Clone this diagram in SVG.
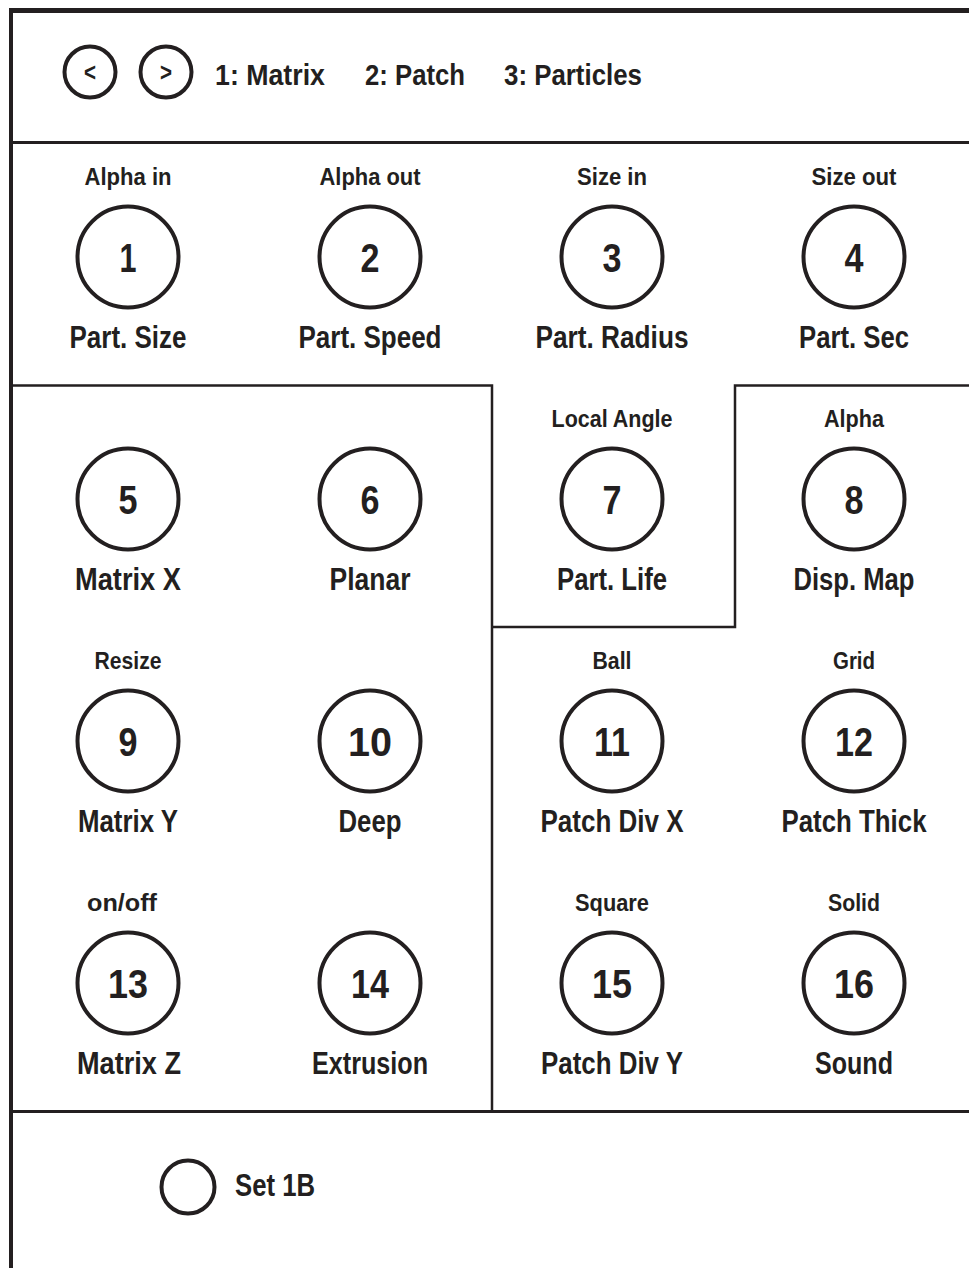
<svg xmlns="http://www.w3.org/2000/svg" width="969" height="1268" viewBox="0 0 969 1268">
<style>
text{font-family:"Liberation Sans",Arial,sans-serif;font-weight:bold;fill:#231f20;text-anchor:middle}
.top{font-size:24px}
.num{font-size:40px}
.bot{font-size:31px}
.hdr{font-size:29px;text-anchor:start}
.knob{fill:none;stroke:#231f20;stroke-width:4}
.ln{stroke:#231f20;fill:none}
</style>
<rect width="969" height="1268" fill="#fff"/>
<g id="frame">
<line class="ln" x1="9" y1="10.5" x2="969" y2="10.5" stroke-width="5"/>
<line class="ln" x1="11" y1="8" x2="11" y2="1268" stroke-width="4"/>
<line class="ln" x1="11" y1="142.5" x2="969" y2="142.5" stroke-width="3"/>
<polyline class="ln" points="11,385.5 492,385.5 492,1111.5" stroke-width="2.5"/>
<polyline class="ln" points="492,627 735,627 735,385.5 969,385.5" stroke-width="2.5"/>
<line class="ln" x1="11" y1="1111.5" x2="969" y2="1111.5" stroke-width="3"/>
</g>
<g id="header">
<g id="prev"><circle class="knob" cx="90" cy="72" r="25.5"/><text x="90" y="81" style="font-size:25px" textLength="12" lengthAdjust="spacingAndGlyphs">&lt;</text></g>
<g id="next"><circle class="knob" cx="166" cy="72" r="25.5"/><text x="166" y="81" style="font-size:25px" textLength="12" lengthAdjust="spacingAndGlyphs">&gt;</text></g>
<text class="hdr" x="215" y="85" textLength="110" lengthAdjust="spacingAndGlyphs">1: Matrix</text>
<text class="hdr" x="365" y="85" textLength="100" lengthAdjust="spacingAndGlyphs">2: Patch</text>
<text class="hdr" x="504" y="85" textLength="138" lengthAdjust="spacingAndGlyphs">3: Particles</text>
</g>
<g id="knob1"><text class="top" x="128" y="185" textLength="87" lengthAdjust="spacingAndGlyphs">Alpha in</text><circle class="knob" cx="128" cy="257" r="50.5"/><text class="num" x="128" y="272" textLength="17" lengthAdjust="spacingAndGlyphs">1</text><text class="bot" x="128" y="348" textLength="117" lengthAdjust="spacingAndGlyphs">Part. Size</text></g>
<g id="knob2"><text class="top" x="370" y="185" textLength="101" lengthAdjust="spacingAndGlyphs">Alpha out</text><circle class="knob" cx="370" cy="257" r="50.5"/><text class="num" x="370" y="272" textLength="19" lengthAdjust="spacingAndGlyphs">2</text><text class="bot" x="370" y="348" textLength="143" lengthAdjust="spacingAndGlyphs">Part. Speed</text></g>
<g id="knob3"><text class="top" x="612" y="185" textLength="70" lengthAdjust="spacingAndGlyphs">Size in</text><circle class="knob" cx="612" cy="257" r="50.5"/><text class="num" x="612" y="272" textLength="19" lengthAdjust="spacingAndGlyphs">3</text><text class="bot" x="612" y="348" textLength="153" lengthAdjust="spacingAndGlyphs">Part. Radius</text></g>
<g id="knob4"><text class="top" x="854" y="185" textLength="85" lengthAdjust="spacingAndGlyphs">Size out</text><circle class="knob" cx="854" cy="257" r="50.5"/><text class="num" x="854" y="272" textLength="19" lengthAdjust="spacingAndGlyphs">4</text><text class="bot" x="854" y="348" textLength="110" lengthAdjust="spacingAndGlyphs">Part. Sec</text></g>
<g id="knob5"><circle class="knob" cx="128" cy="499" r="50.5"/><text class="num" x="128" y="514" textLength="19" lengthAdjust="spacingAndGlyphs">5</text><text class="bot" x="128" y="590" textLength="106" lengthAdjust="spacingAndGlyphs">Matrix X</text></g>
<g id="knob6"><circle class="knob" cx="370" cy="499" r="50.5"/><text class="num" x="370" y="514" textLength="19" lengthAdjust="spacingAndGlyphs">6</text><text class="bot" x="370" y="590" textLength="81" lengthAdjust="spacingAndGlyphs">Planar</text></g>
<g id="knob7"><text class="top" x="612" y="427" textLength="121" lengthAdjust="spacingAndGlyphs">Local Angle</text><circle class="knob" cx="612" cy="499" r="50.5"/><text class="num" x="612" y="514" textLength="19" lengthAdjust="spacingAndGlyphs">7</text><text class="bot" x="612" y="590" textLength="110" lengthAdjust="spacingAndGlyphs">Part. Life</text></g>
<g id="knob8"><text class="top" x="854" y="427" textLength="60" lengthAdjust="spacingAndGlyphs">Alpha</text><circle class="knob" cx="854" cy="499" r="50.5"/><text class="num" x="854" y="514" textLength="19" lengthAdjust="spacingAndGlyphs">8</text><text class="bot" x="854" y="590" textLength="121" lengthAdjust="spacingAndGlyphs">Disp. Map</text></g>
<g id="knob9"><text class="top" x="128" y="669" textLength="67" lengthAdjust="spacingAndGlyphs">Resize</text><circle class="knob" cx="128" cy="741" r="50.5"/><text class="num" x="128" y="756" textLength="19" lengthAdjust="spacingAndGlyphs">9</text><text class="bot" x="128" y="832" textLength="100" lengthAdjust="spacingAndGlyphs">Matrix Y</text></g>
<g id="knob10"><circle class="knob" cx="370" cy="741" r="50.5"/><text class="num" x="370" y="756" textLength="44" lengthAdjust="spacingAndGlyphs">10</text><text class="bot" x="370" y="832" textLength="63" lengthAdjust="spacingAndGlyphs">Deep</text></g>
<g id="knob11"><text class="top" x="612" y="669" textLength="39" lengthAdjust="spacingAndGlyphs">Ball</text><circle class="knob" cx="612" cy="741" r="50.5"/><text class="num" x="612" y="756" textLength="36" lengthAdjust="spacingAndGlyphs">11</text><text class="bot" x="612" y="832" textLength="143" lengthAdjust="spacingAndGlyphs">Patch Div X</text></g>
<g id="knob12"><text class="top" x="854" y="669" textLength="42" lengthAdjust="spacingAndGlyphs">Grid</text><circle class="knob" cx="854" cy="741" r="50.5"/><text class="num" x="854" y="756" textLength="38" lengthAdjust="spacingAndGlyphs">12</text><text class="bot" x="854" y="832" textLength="145" lengthAdjust="spacingAndGlyphs">Patch Thick</text></g>
<g id="knob13"><text class="top" x="122" y="911" textLength="70" lengthAdjust="spacingAndGlyphs">on/off</text><circle class="knob" cx="128" cy="983" r="50.5"/><text class="num" x="128" y="998" textLength="40" lengthAdjust="spacingAndGlyphs">13</text><text class="bot" x="129" y="1074" textLength="104" lengthAdjust="spacingAndGlyphs">Matrix Z</text></g>
<g id="knob14"><circle class="knob" cx="370" cy="983" r="50.5"/><text class="num" x="370" y="998" textLength="38" lengthAdjust="spacingAndGlyphs">14</text><text class="bot" x="370" y="1074" textLength="116" lengthAdjust="spacingAndGlyphs">Extrusion</text></g>
<g id="knob15"><text class="top" x="612" y="911" textLength="74" lengthAdjust="spacingAndGlyphs">Square</text><circle class="knob" cx="612" cy="983" r="50.5"/><text class="num" x="612" y="998" textLength="40" lengthAdjust="spacingAndGlyphs">15</text><text class="bot" x="612" y="1074" textLength="142" lengthAdjust="spacingAndGlyphs">Patch Div Y</text></g>
<g id="knob16"><text class="top" x="854" y="911" textLength="52" lengthAdjust="spacingAndGlyphs">Solid</text><circle class="knob" cx="854" cy="983" r="50.5"/><text class="num" x="854" y="998" textLength="40" lengthAdjust="spacingAndGlyphs">16</text><text class="bot" x="854" y="1074" textLength="78" lengthAdjust="spacingAndGlyphs">Sound</text></g>
<g id="set1b"><circle class="knob" cx="188" cy="1187" r="26.5"/><text class="hdr" x="235" y="1196" style="font-size:31px" textLength="80" lengthAdjust="spacingAndGlyphs">Set 1B</text></g>
</svg>
